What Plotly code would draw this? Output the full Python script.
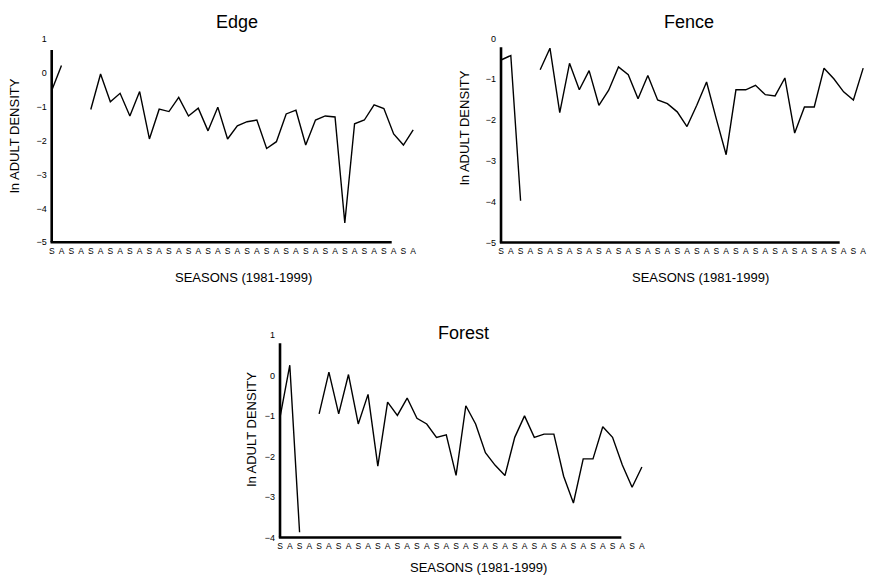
import plotly.graph_objects as go

W, H = 869, 578

seasons = ["S", "A"] * 19
idx = list(range(38))

edge = [-0.52, 0.22, None, None, -1.08, -0.03, -0.85, -0.60, -1.27, -0.55,
        -1.95, -1.07, -1.14, -0.72, -1.27, -1.04, -1.71, -1.01, -1.95, -1.56,
        -1.44, -1.39, -2.23, -2.03, -1.21, -1.10, -2.13, -1.39, -1.27, -1.30,
        -4.43, -1.50, -1.39, -0.94, -1.05, -1.80, -2.13, -1.68]

fence = [-0.53, -0.42, -3.98, None, -0.77, -0.24, -1.82, -0.61, -1.26, -0.79,
         -1.64, -1.27, -0.70, -0.89, -1.48, -0.91, -1.51, -1.60, -1.80, -2.16,
         -1.64, -1.07, -1.98, -2.85, -1.26, -1.26, -1.15, -1.38, -1.41, -0.97,
         -2.32, -1.68, -1.68, -0.73, -0.99, -1.31, -1.51, -0.73]

forest = [-1.04, 0.25, -3.87, None, -0.95, 0.08, -0.95, 0.02, -1.20, -0.47,
          -2.24, -0.66, -0.99, -0.56, -1.06, -1.20, -1.53, -1.47, -2.47, -0.75,
          -1.20, -1.91, -2.22, -2.47, -1.53, -1.00, -1.53, -1.45, -1.45, -2.49,
          -3.15, -2.06, -2.06, -1.27, -1.53, -2.21, -2.76, -2.26]

titles = ["Edge", "Fence", "Forest"]
x_title = "SEASONS (1981-1999)"
y_title = "ln ADULT DENSITY"


def px(x):
    return x / W


def py(y):
    return 1 - y / H


# panel geometry in page pixels: (left, right, top, bottom), ranges, axis line extents
panels = [
    dict(data=edge, dom=(47.8, 417.1, 34.2, 246.1), xr=[-0.4, 37.4], yr=[-5.12, 1.12],
         ylo=-5, ytop=0.68, xend=34.8, title=(237, 21), xt=(243, 277), yt=(14.5, 135)),
    dict(data=fence, dom=(497.1, 867.1, 33.4, 246.4), xr=[-0.4, 37.4], yr=[-5.1, 0.1],
         ylo=-5, ytop=-0.22, xend=34.6, title=(689, 21), xt=(700, 277), yt=(464.5, 127)),
    dict(data=forest, dom=(276.1, 645.8, 330.9, 542.4), xr=[-0.4, 37.4], yr=[-4.1, 1.1],
         ylo=-4, ytop=0.79, xend=34.9, title=(464, 333), xt=(478.5, 568.5), yt=(252, 430)),
]

fig = go.Figure()
shapes = []
annotations = []
font = "Liberation Sans, Arial, sans-serif"

for i, (p, name) in enumerate(zip(panels, titles)):
    n = "" if i == 0 else str(i + 1)
    xa, ya = "x" + n, "y" + n
    fig.add_trace(go.Scatter(x=idx, y=p["data"], mode="lines", xaxis=xa, yaxis=ya,
                             line=dict(color="black", width=1.4), connectgaps=False,
                             showlegend=False, hoverinfo="skip"))
    l, r, t, b = p["dom"]
    fig.update_layout(**{
        "xaxis" + n: dict(domain=[px(l), px(r)], range=p["xr"], anchor=ya,
                          tickmode="array", tickvals=idx, ticktext=seasons,
                          showgrid=False, zeroline=False, showline=False, ticks="",
                          ticklabelstandoff=-2,
                          tickfont=dict(size=8.5, color="black", family=font)),
        "yaxis" + n: dict(domain=[py(b), py(t)], range=p["yr"], anchor=xa,
                          dtick=1, tick0=0, showgrid=False, zeroline=False,
                          showline=False, ticks="",
                          tickfont=dict(size=9, color="black", family=font)),
    })
    shapes.append(dict(type="line", xref=xa, yref=ya, x0=0, x1=0, y0=p["ylo"], y1=p["ytop"],
                       line=dict(color="black", width=2.6)))
    shapes.append(dict(type="line", xref=xa, yref=ya, x0=-0.12, x1=p["xend"], y0=p["ylo"], y1=p["ylo"],
                       line=dict(color="black", width=2.6)))
    tx, ty = p["title"]
    annotations.append(dict(text=name, x=px(tx), y=py(ty), xref="paper", yref="paper",
                            showarrow=False, xanchor="center", yanchor="middle",
                            font=dict(size=18, color="black", family=font)))
    ax_, ay_ = p["xt"]
    annotations.append(dict(text=x_title, x=px(ax_), y=py(ay_), xref="paper", yref="paper",
                            showarrow=False, xanchor="center", yanchor="middle",
                            font=dict(size=13, color="black", family=font)))
    bx, by = p["yt"]
    annotations.append(dict(text=y_title, x=px(bx), y=py(by), xref="paper", yref="paper",
                            showarrow=False, xanchor="center", yanchor="middle", textangle=-90,
                            font=dict(size=13, color="black", family=font)))

fig.update_layout(width=W, height=H, margin=dict(l=0, r=0, t=0, b=0),
                  paper_bgcolor="white", plot_bgcolor="white",
                  shapes=shapes, annotations=annotations,
                  font=dict(family=font, color="black"))

fig.write_html("out.html",
               config={"displayModeBar": False, "staticPlot": True},
               post_script="document.body.style.margin='0';document.body.style.overflow='hidden';")
